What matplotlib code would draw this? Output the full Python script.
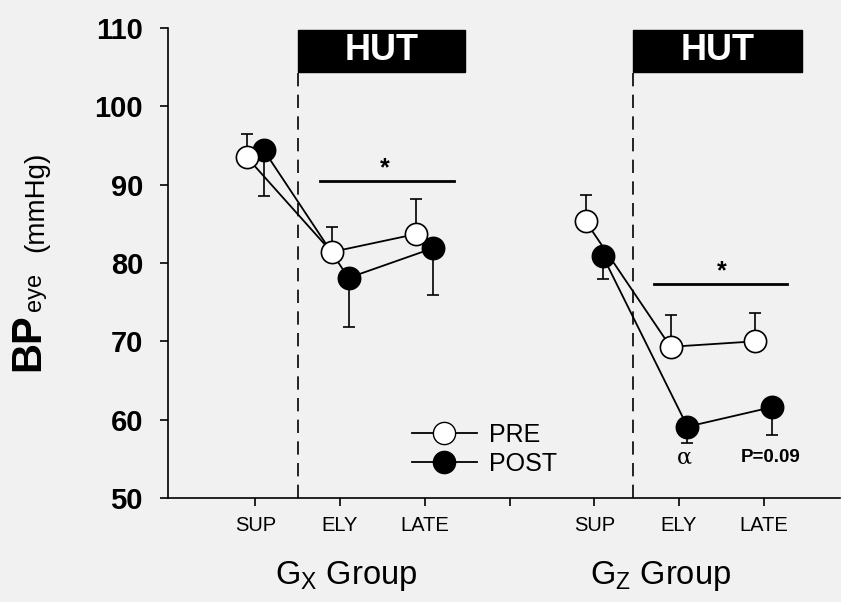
import matplotlib
matplotlib.use("Agg")
import matplotlib.pyplot as plt
import numpy as np
from matplotlib.lines import Line2D

plt.rcParams['font.family'] = ['Liberation Sans', 'DejaVu Sans']

# Data
phases = ["SUP", "ELY", "LATE"]
gx_pre = [93.5, 81.4, 83.7]
gx_pre_err = [3.0, 3.2, 4.5]
gx_post = [94.4, 78.1, 81.9]
gx_post_err = [5.8, 6.3, 6.0]
gz_pre = [85.3, 69.3, 70.0]
gz_pre_err = [3.4, 4.1, 3.6]
gz_post = [80.9, 59.1, 61.6]
gz_post_err = [2.9, 2.1, 3.6]
gx_pos = [0, 1, 2]
gz_pos = [4, 5, 6]
tick_pos = [0, 1, 2, 3, 4, 5, 6]
tick_labels = ["SUP", "ELY", "LATE", "", "SUP", "ELY", "LATE"]
yticks = [50, 60, 70, 80, 90, 100, 110]

bg = '#f1f1f1'
fig = plt.figure(figsize=(8.41, 6.02), dpi=100, facecolor=bg)
ax = fig.add_axes([0.1998, 0.1728, 0.799, 0.7807])
ax.set_facecolor(bg)
ax.set_xlim(-1.03, 6.9)
ax.set_ylim(50, 110)

off = 0.1
mk = dict(marker='o', markersize=16, markeredgewidth=1.2, linewidth=1.3)

for pos, pre, pre_e, post, post_e in [(gx_pos, gx_pre, gx_pre_err, gx_post, gx_post_err),
                                     (gz_pos, gz_pre, gz_pre_err, gz_post, gz_post_err)]:
    xp = np.array(pos) - off
    xq = np.array(pos) + off
    ax.errorbar(xp, pre, yerr=[np.zeros(3), pre_e], fmt='none', ecolor='black',
                elinewidth=1.2, capsize=4, capthick=1.2, zorder=2)
    ax.errorbar(xq, post, yerr=[post_e, np.zeros(3)], fmt='none', ecolor='black',
                elinewidth=1.2, capsize=4, capthick=1.2, zorder=2)
    ax.plot(xp, pre, color='black', markerfacecolor='white', markeredgecolor='black', zorder=4, **mk)
    ax.plot(xq, post, color='black', markerfacecolor='black', markeredgecolor='black', zorder=3, **mk)

# HUT boxes and dashed lines
for x0, x1 in [(0.5, 2.47), (4.46, 6.45)]:
    ax.add_patch(plt.Rectangle((x0, 104.4), x1 - x0, 5.3, facecolor='black',
                               edgecolor='black', clip_on=False, zorder=5))
    ax.text((x0 + x1) / 2, 107.1, "HUT", color='white', fontsize=26, fontweight='bold',
            ha='center', va='center', zorder=6)
    ax.plot([x0, x0], [50, 104.4], color='black', linestyle=(0, (8, 5)), linewidth=1.2, zorder=1)

# significance bars
ax.plot([0.76, 2.35], [90.5, 90.5], color='black', linewidth=2)
ax.text(1.53, 90.6, "*", fontsize=18, fontweight='bold', ha='center', va='bottom')
ax.plot([4.7, 6.28], [77.3, 77.3], color='black', linewidth=2)
ax.text(5.5, 77.4, "*", fontsize=18, fontweight='bold', ha='center', va='bottom')

ax.text(5.06, 55.2, "α", fontsize=16, ha='center', va='center', family=['DejaVu Serif'])
ax.text(6.08, 55.2, "P=0.09", fontsize=13.5, fontweight='bold', ha='center', va='center')

# legend
h_pre = Line2D([], [], color='black', marker='o', markersize=16, markerfacecolor='white',
               markeredgecolor='black', linewidth=1.3)
h_post = Line2D([], [], color='black', marker='o', markersize=16, markerfacecolor='black',
                markeredgecolor='black', linewidth=1.3)
leg = ax.legend([h_pre, h_post], ["PRE", "POST"], loc='center left',
                bbox_to_anchor=(0.344, 0.104), frameon=False, fontsize=18,
                handlelength=2.6, labelspacing=0.2, handletextpad=0.5, borderpad=0)

# axes styling
for s in ['top', 'right']:
    ax.spines[s].set_visible(False)
ax.spines['left'].set_linewidth(1.2)
ax.spines['bottom'].set_linewidth(1.2)
ax.set_yticks(yticks)
ax.set_yticklabels([str(v) for v in yticks], fontsize=21, fontweight='bold')
ax.set_xticks(tick_pos)
ax.set_xticklabels(tick_labels, fontsize=14.5)
ax.tick_params(axis='both', direction='out', length=6, width=1.2)
ax.tick_params(axis='y', pad=12)
ax.tick_params(axis='x', pad=7)

fig.text(0.412, 0.03, r"G$_\mathregular{X}$ Group", fontsize=23.5, ha='center', va='baseline')
fig.text(0.786, 0.03, r"G$_\mathregular{Z}$ Group", fontsize=23.5, ha='center', va='baseline')

# y label
fig.text(0.033, 0.432, "BP", fontsize=30, fontweight='bold', rotation=90, ha='center', va='center')
fig.text(0.042, 0.515, "eye", fontsize=17, rotation=90, ha='center', va='center')
fig.text(0.0434, 0.664, "(mmHg)", fontsize=20, rotation=90, ha='center', va='center')

fig.savefig("out.png", dpi=100, facecolor=bg)
